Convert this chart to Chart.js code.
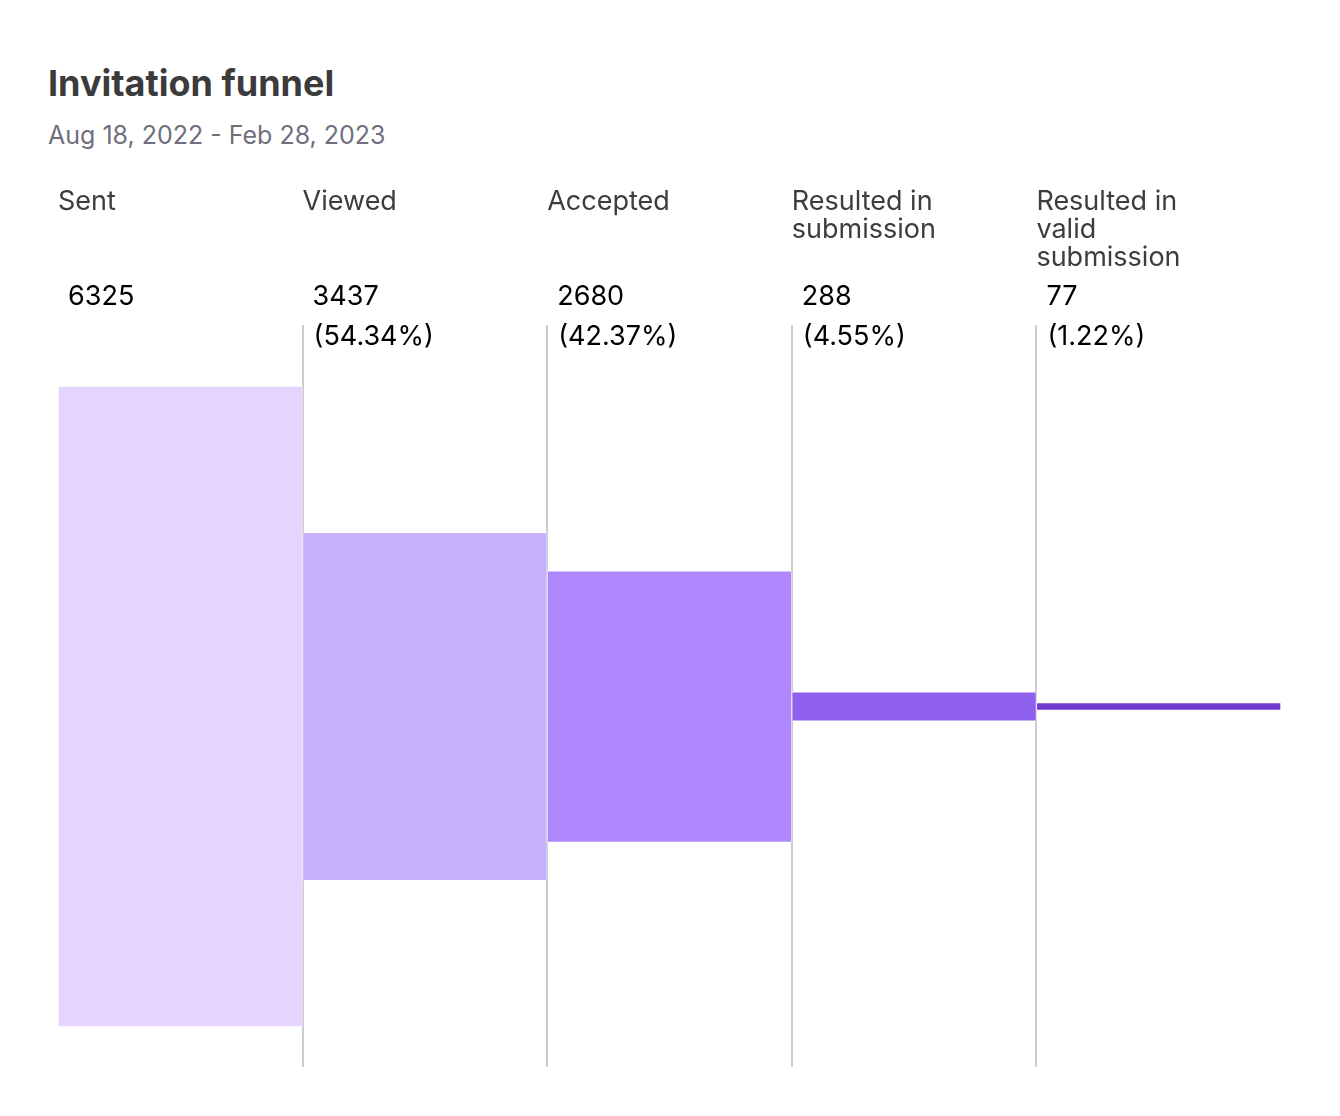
<!DOCTYPE html>
<html>
<head>
<meta charset="utf-8">
<script src="https://cdn.jsdelivr.net/npm/chart.js@4.4.0/dist/chart.umd.min.js"></script>
<style>
    html, body { margin: 0; padding: 0; background: #fff; }
    body { width: 1340px; height: 1116px; position: relative; overflow: hidden; }
    .title {
        position: absolute; left: 48px; top: 61px;
        font-family: "Inter", sans-serif; font-weight: 700; font-size: 36px;
        color: #3b3b3b; letter-spacing: 0px;
    }
    .subtitle {
        position: absolute; left: 48px; top: 120px;
        font-family: "Inter", sans-serif; font-size: 25px; color: #6f6f7d;
    }
    .chart-container { position: absolute; left: 0; top: 0; width: 1340px; height: 1116px; }
</style>
</head>
<body>
<div class="title">Invitation funnel</div>
<div class="subtitle">Aug 18, 2022 - Feb 28, 2023</div>
<div class="chart-container"><canvas id="funnel"></canvas></div>
<script>
    // Funnel data
    const stages = [
        ["Sent"],
        ["Viewed"],
        ["Accepted"],
        ["Resulted in", "submission"],
        ["Resulted in", "valid", "submission"],
    ];
    const counts = [6325, 3437, 2680, 288, 77];
    const percents = [null, "(54.34%)", "(42.37%)", "(4.55%)", "(1.22%)"];
    const colors = ["#e5d5fe", "#c9b0ff", "#ae87ff", "#8f5fee", "#7039d2"];

    // bars are centred on zero: [-v/2, v/2]
    const floating = counts.map((v) => [-v / 2, v / 2]);

    const labelFont = '27px "Inter", sans-serif';

    // divider lines + header texts
    const funnelDecor = {
        id: "funnelDecor",
        beforeDatasetsDraw(chart) {
            const { ctx, chartArea, scales } = chart;
            const x = scales.x;
            const step = (chartArea.right - chartArea.left) / counts.length;
            ctx.save();
            ctx.strokeStyle = "#cccccc";
            ctx.lineWidth = 2;
            for (let i = 1; i < counts.length; i++) {
                const px = Math.round(x.getPixelForValue(i) - step / 2);
                ctx.beginPath();
                ctx.moveTo(px, chartArea.top);
                ctx.lineTo(px, chartArea.bottom);
                ctx.stroke();
            }
            ctx.restore();
        },
        afterDraw(chart) {
            const { ctx, chartArea, scales } = chart;
            const x = scales.x;
            const step = (chartArea.right - chartArea.left) / counts.length;
            ctx.save();
            ctx.font = labelFont;
            ctx.textBaseline = "alphabetic";
            ctx.textAlign = "left";
            stages.forEach((lines, i) => {
                const left = x.getPixelForValue(i) - step / 2;
                ctx.fillStyle = "#3d3d3d";
                lines.forEach((ln, j) => {
                    ctx.fillText(ln, left, 210 + j * 28);
                });
                ctx.fillStyle = "#000";
                ctx.fillText(String(counts[i]), left + 10, 305);
                if (percents[i]) ctx.fillText(percents[i], left + 11, 345);
            });
            ctx.restore();
        },
    };

    new Chart(document.getElementById("funnel").getContext("2d"), {
        type: "bar",
        data: {
            labels: stages,
            datasets: [
                {
                    data: floating,
                    backgroundColor: colors,
                    borderColor: "rgba(255, 255, 255, 0.45)",
                    borderWidth: 1,
                    borderSkipped: false,
                    barPercentage: 1,
                    categoryPercentage: 1,
                },
            ],
        },
        options: {
            responsive: true,
            maintainAspectRatio: false,
            animation: false,
            layout: { padding: { left: 58, right: 59, top: 325, bottom: 49 } },
            plugins: {
                legend: { display: false },
                tooltip: { enabled: false },
            },
            scales: {
                x: { display: false },
                y: { display: false, min: -3557, max: 3765 },
            },
        },
        plugins: [funnelDecor],
    });
</script>
</body>
</html>
